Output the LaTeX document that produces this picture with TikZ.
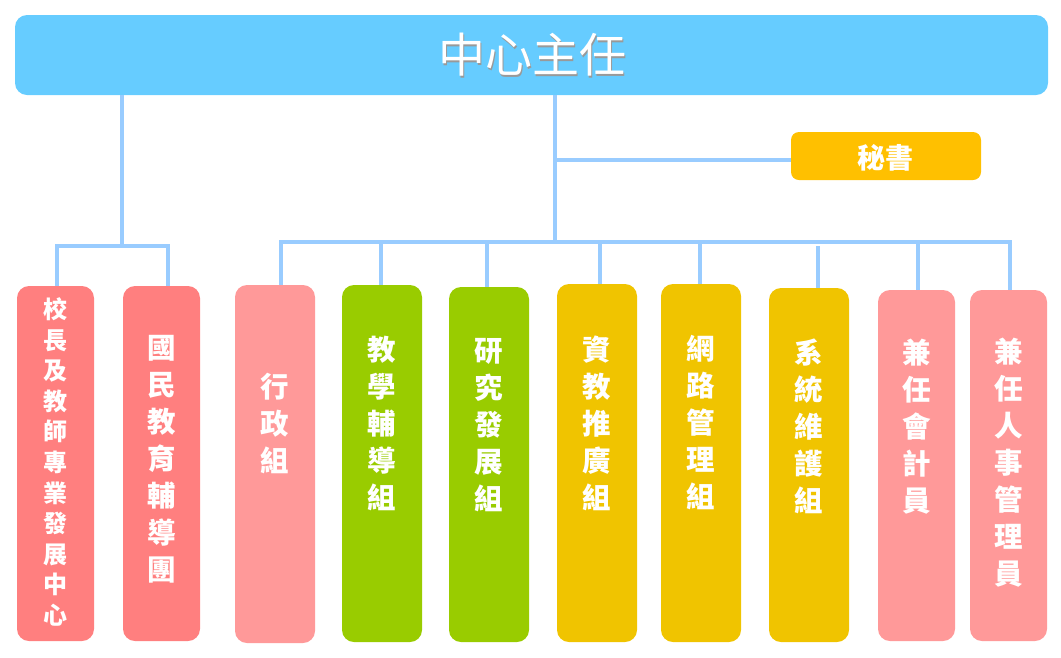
\documentclass[tikz,border=0pt]{standalone}
\usepackage{fontspec}
\newfontfamily\cjk{Noto Sans CJK TC}
\definecolor{topblue}{HTML}{66CCFF}
\definecolor{lineblue}{HTML}{99CCFF}
\definecolor{secgold}{HTML}{FFC000}
\definecolor{redbox}{HTML}{FF7F7F}
\definecolor{pinkbox}{HTML}{FF9999}
\definecolor{greenbox}{HTML}{99CC00}
\definecolor{goldbox}{HTML}{F0C400}
\tikzset{
  unitbox/.style={rectangle, rounded corners=12pt, draw=none, inner sep=0pt, outer sep=0pt, minimum width=80pt, minimum height=357pt},
  conn/.style={draw=lineblue, line width=4.5pt},
  vtext/.style={text=white, align=center, inner sep=0pt, font=\cjk\bfseries\fontsize{28.5}{37}\selectfont},
  vtextsmall/.style={text=white, align=center, inner sep=0pt, font=\cjk\bfseries\fontsize{24}{30.6}\selectfont},
}
\begin{document}
\begin{tikzpicture}[x=1pt,y=-1pt]
\useasboundingbox (0,0) rectangle (1061,657);
% top box
\node[rectangle, rounded corners=12pt, fill=topblue, inner sep=0pt, minimum width=1033pt, minimum height=80pt] (top) at (531.5,55) {};
\node[text=black!40, inner sep=0pt, font=\cjk\fontsize{47}{47}\selectfont] (titleshadow) at (533.3,56.3) {中心主任};
\node[text=white, inner sep=0pt, font=\cjk\fontsize{47}{47}\selectfont] (title) at (532,55) {中心主任};
% secretary
\node[rectangle, rounded corners=8pt, fill=secgold, inner sep=0pt, minimum width=190pt, minimum height=48pt] (sec) at (886,156) {};
\node[text=white, inner sep=0pt, font=\cjk\bfseries\fontsize{28}{28}\selectfont] (sect) at (885,158) {秘書};
% junction coordinates
\coordinate (lj) at (122,246);
\coordinate (rj) at (555,242);
\coordinate (sj) at (555,160);
\coordinate (d1) at (57,246);
\coordinate (d2) at (168,246);
\coordinate (d3) at (281,242);
\coordinate (d4) at (381,242);
\coordinate (d5) at (487,242);
\coordinate (d6) at (600,242);
\coordinate (d7) at (700,242);
\coordinate (d8) at (818,246);
\coordinate (d9) at (918,242);
\coordinate (d10) at (1010,242);
% boxes
\node[unitbox, fill=redbox, minimum width=77pt, minimum height=355pt] (b1) at (55.5,463.5) {};
\node[unitbox, fill=redbox, minimum width=77pt, minimum height=355pt] (b2) at (161.5,463.5) {};
\node[unitbox, fill=pinkbox, minimum height=358pt] (b3) at (275,464) {};
\node[unitbox, fill=greenbox, minimum height=357pt] (b4) at (382,463.5) {};
\node[unitbox, fill=greenbox, minimum height=355pt] (b5) at (489,464.5) {};
\node[unitbox, fill=goldbox, minimum height=358pt] (b6) at (597,463) {};
\node[unitbox, fill=goldbox, minimum height=358pt] (b7) at (701,463) {};
\node[unitbox, fill=goldbox, minimum height=354pt] (b8) at (809,465) {};
\node[unitbox, fill=pinkbox, minimum width=77pt, minimum height=351pt] (b9) at (916.5,465.5) {};
\node[unitbox, fill=pinkbox, minimum width=77pt, minimum height=351pt] (b10) at (1008.5,465.5) {};
% connectors
\draw[conn] (top.south -| lj) -- (lj);
\draw[conn, line cap=rect] (d1) -- (d2);
\draw[conn] (d1) -- (d1 |- b1.north);
\draw[conn] (d2) -- (d2 |- b2.north);
\draw[conn] (top.south -| rj) -- (rj);
\draw[conn] (sj) -- (sj -| sec.west);
\draw[conn, line cap=rect] (d3) -- (d10);
\draw[conn] (d3) -- (d3 |- b3.north);
\draw[conn] (d4) -- (d4 |- b4.north);
\draw[conn] (d5) -- (d5 |- b5.north);
\draw[conn] (d6) -- (d6 |- b6.north);
\draw[conn] (d7) -- (d7 |- b7.north);
\draw[conn] (d8) -- (d8 |- b8.north);
\draw[conn] (d9) -- (d9 |- b9.north);
\draw[conn] (d10) -- (d10 |- b10.north);
% texts
\node[vtextsmall] (t1) at (55.5,462) {校\\長\\及\\教\\師\\專\\業\\發\\展\\中\\心};
\node[vtext] (t2) at (161.5,459) {國\\民\\教\\育\\輔\\導\\團};
\node[vtext] (t3) at (275,423) {行\\政\\組};
\node[vtext] (t4) at (382,423.5) {教\\學\\輔\\導\\組};
\node[vtext] (t5) at (489,425) {研\\究\\發\\展\\組};
\node[vtext] (t6) at (597,423) {資\\教\\推\\廣\\組};
\node[vtext] (t7) at (701,423) {網\\路\\管\\理\\組};
\node[vtext] (t8) at (809,426.5) {系\\統\\維\\護\\組};
\node[vtext] (t9) at (916.5,426.5) {兼\\任\\會\\計\\員};
\node[vtext] (t10) at (1008.5,463) {兼\\任\\人\\事\\管\\理\\員};
\end{tikzpicture}
\end{document}
